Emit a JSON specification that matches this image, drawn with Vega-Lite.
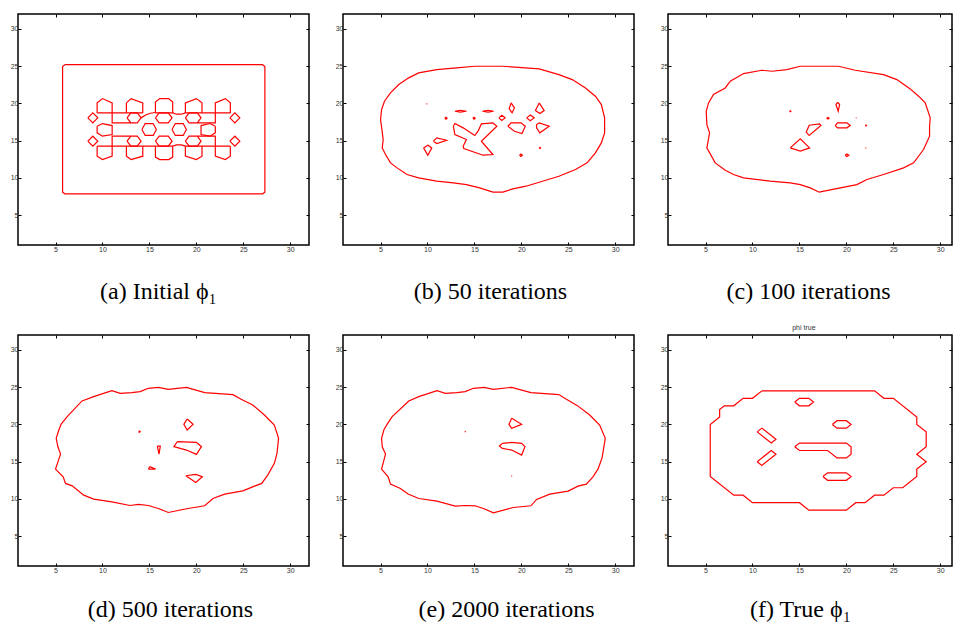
{
  "$schema": "https://vega.github.io/schema/vega-lite/v6.json",
  "padding": {"left": 9, "top": 12, "right": 0, "bottom": 0},
  "background": "white",
  "config": {
    "view": {"stroke": "black", "strokeWidth": 1.5},
    "axis": {"grid": false, "domain": false, "tickColor": "black", "tickSize": -3, "tickWidth": 1, "labelFont": "Liberation Sans", "labelFontSize": 7, "labelColor": "#333", "labelPadding": 3, "titleFont": "Liberation Serif", "titleFontSize": 24, "titleFontWeight": "normal", "titleColor": "black"},
    "line": {"color": "red", "strokeWidth": 1.2},
    "title": {"font": "Liberation Sans", "fontSize": 7, "fontWeight": "normal", "color": "#333", "offset": 4}
  },
  "datasets": {
    "a": [
      {"s":1,"x":6,"y":25.2},{"s":1,"x":27.05,"y":25.2},{"s":1,"x":27.3,"y":24.95},{"s":1,"x":27.3,"y":8.1},{"s":1,"x":27.05,"y":7.85},{"s":1,"x":6,"y":7.85},{"s":1,"x":5.75,"y":8.1},{"s":1,"x":5.75,"y":24.95},{"s":1,"x":6,"y":25.2},
      {"s":2,"x":9.43,"y":18.73},{"s":2,"x":9.43,"y":20.07},{"s":2,"x":10,"y":20.65},{"s":2,"x":11.03,"y":20.07},{"s":2,"x":11.03,"y":18.73},
      {"s":3,"x":12.55,"y":18.73},{"s":3,"x":12.55,"y":20.07},{"s":3,"x":13.05,"y":20.65},{"s":3,"x":14.29,"y":20.07},{"s":3,"x":14.29,"y":18.73},
      {"s":4,"x":15.64,"y":18.73},{"s":4,"x":15.64,"y":20.2},{"s":4,"x":16.1,"y":20.65},{"s":4,"x":17.05,"y":20.65},{"s":4,"x":17.48,"y":20.2},{"s":4,"x":17.48,"y":18.73},
      {"s":5,"x":18.83,"y":18.73},{"s":5,"x":18.83,"y":20.07},{"s":5,"x":20,"y":20.65},{"s":5,"x":20.6,"y":20.07},{"s":5,"x":20.6,"y":18.73},
      {"s":6,"x":22.02,"y":18.73},{"s":6,"x":22.02,"y":20.07},{"s":6,"x":23.09,"y":20.65},{"s":6,"x":23.62,"y":20.07},{"s":6,"x":23.62,"y":18.73},
      {"s":7,"x":9.43,"y":14.26},{"s":7,"x":9.43,"y":12.92},{"s":7,"x":10,"y":12.47},{"s":7,"x":11.03,"y":12.92},{"s":7,"x":11.03,"y":14.26},
      {"s":8,"x":12.55,"y":14.26},{"s":8,"x":12.55,"y":12.92},{"s":8,"x":13.05,"y":12.47},{"s":8,"x":14.29,"y":12.92},{"s":8,"x":14.29,"y":14.26},
      {"s":9,"x":15.64,"y":14.26},{"s":9,"x":15.64,"y":12.8},{"s":9,"x":16.1,"y":12.47},{"s":9,"x":17.05,"y":12.47},{"s":9,"x":17.48,"y":12.8},{"s":9,"x":17.48,"y":14.26},
      {"s":10,"x":18.83,"y":14.26},{"s":10,"x":18.83,"y":12.92},{"s":10,"x":20,"y":12.47},{"s":10,"x":20.6,"y":12.92},{"s":10,"x":20.6,"y":14.26},
      {"s":11,"x":22.02,"y":14.26},{"s":11,"x":22.02,"y":12.92},{"s":11,"x":23.09,"y":12.47},{"s":11,"x":23.62,"y":12.92},{"s":11,"x":23.62,"y":14.26},
      {"s":12,"x":9.43,"y":18.73},{"s":12,"x":14.29,"y":18.73},
      {"s":13,"x":14.11,"y":18.06},{"s":13,"x":14.6,"y":18.45},{"s":13,"x":15.1,"y":18.68},{"s":13,"x":15.64,"y":18.78},
      {"s":14,"x":15.64,"y":18.73},{"s":14,"x":17.48,"y":18.73},{"s":14,"x":17.9,"y":18.55},{"s":14,"x":18.4,"y":18.55},{"s":14,"x":18.83,"y":18.73},{"s":14,"x":23.62,"y":18.73},
      {"s":15,"x":9.43,"y":14.26},{"s":15,"x":17.48,"y":14.26},{"s":15,"x":17.9,"y":14.44},{"s":15,"x":18.4,"y":14.44},{"s":15,"x":18.83,"y":14.26},{"s":15,"x":23.62,"y":14.26},
      {"s":16,"x":11.03,"y":18.73},{"s":16,"x":11.03,"y":17.39},{"s":16,"x":13.02,"y":17.39},
      {"s":17,"x":11.03,"y":14.26},{"s":17,"x":11.03,"y":15.6},{"s":17,"x":13.02,"y":15.6},
      {"s":18,"x":22.02,"y":18.73},{"s":18,"x":22.02,"y":17.39},{"s":18,"x":20.1,"y":17.39},
      {"s":19,"x":22.02,"y":14.26},{"s":19,"x":22.02,"y":15.6},{"s":19,"x":20.1,"y":15.6},
      {"s":20,"x":12.62,"y":18.06},{"s":20,"x":13.02,"y":18.73},{"s":20,"x":13.71,"y":18.73},{"s":20,"x":14.11,"y":18.06},{"s":20,"x":13.71,"y":17.39},{"s":20,"x":13.02,"y":17.39},{"s":20,"x":12.62,"y":18.06},
      {"s":21,"x":15.64,"y":18.06},{"s":21,"x":16.04,"y":18.73},{"s":21,"x":17.01,"y":18.73},{"s":21,"x":17.41,"y":18.06},{"s":21,"x":17.01,"y":17.39},{"s":21,"x":16.04,"y":17.39},{"s":21,"x":15.64,"y":18.06},
      {"s":22,"x":18.83,"y":18.06},{"s":22,"x":19.23,"y":18.73},{"s":22,"x":20.1,"y":18.73},{"s":22,"x":20.5,"y":18.06},{"s":22,"x":20.1,"y":17.39},{"s":22,"x":19.23,"y":17.39},{"s":22,"x":18.83,"y":18.06},
      {"s":23,"x":12.62,"y":14.93},{"s":23,"x":13.02,"y":15.6},{"s":23,"x":13.71,"y":15.6},{"s":23,"x":14.11,"y":14.93},{"s":23,"x":13.71,"y":14.26},{"s":23,"x":13.02,"y":14.26},{"s":23,"x":12.62,"y":14.93},
      {"s":24,"x":15.64,"y":14.93},{"s":24,"x":16.04,"y":15.6},{"s":24,"x":17.01,"y":15.6},{"s":24,"x":17.41,"y":14.93},{"s":24,"x":17.01,"y":14.26},{"s":24,"x":16.04,"y":14.26},{"s":24,"x":15.64,"y":14.93},
      {"s":25,"x":18.83,"y":14.93},{"s":25,"x":19.23,"y":15.6},{"s":25,"x":20.1,"y":15.6},{"s":25,"x":20.5,"y":14.93},{"s":25,"x":20.1,"y":14.26},{"s":25,"x":19.23,"y":14.26},{"s":25,"x":18.83,"y":14.93},
      {"s":26,"x":9.43,"y":16.94},{"s":26,"x":10,"y":17.3},{"s":26,"x":11.03,"y":17.03},{"s":26,"x":11.03,"y":15.82},{"s":26,"x":10,"y":15.6},{"s":26,"x":9.43,"y":16.05},{"s":26,"x":9.43,"y":16.94},
      {"s":27,"x":14.2,"y":16.5},{"s":27,"x":14.55,"y":17.3},{"s":27,"x":15.4,"y":17.3},{"s":27,"x":15.74,"y":16.5},{"s":27,"x":15.4,"y":15.7},{"s":27,"x":14.55,"y":15.7},{"s":27,"x":14.2,"y":16.5},
      {"s":28,"x":17.41,"y":16.5},{"s":28,"x":17.76,"y":17.3},{"s":28,"x":18.6,"y":17.3},{"s":28,"x":18.94,"y":16.5},{"s":28,"x":18.6,"y":15.7},{"s":28,"x":17.76,"y":15.7},{"s":28,"x":17.41,"y":16.5},
      {"s":29,"x":22.02,"y":16.94},{"s":29,"x":21.45,"y":17.3},{"s":29,"x":20.5,"y":17.03},{"s":29,"x":20.5,"y":15.82},{"s":29,"x":21.45,"y":15.6},{"s":29,"x":22.02,"y":16.05},{"s":29,"x":22.02,"y":16.94},
      {"s":30,"x":8.44,"y":18.06},{"s":30,"x":8.97,"y":18.73},{"s":30,"x":9.5,"y":18.06},{"s":30,"x":8.97,"y":17.39},{"s":30,"x":8.44,"y":18.06},
      {"s":31,"x":8.44,"y":14.93},{"s":31,"x":8.97,"y":15.6},{"s":31,"x":9.5,"y":14.93},{"s":31,"x":8.97,"y":14.26},{"s":31,"x":8.44,"y":14.93},
      {"s":32,"x":23.57,"y":18.06},{"s":32,"x":24.1,"y":18.73},{"s":32,"x":24.63,"y":18.06},{"s":32,"x":24.1,"y":17.39},{"s":32,"x":23.57,"y":18.06},
      {"s":33,"x":23.57,"y":14.93},{"s":33,"x":24.1,"y":15.6},{"s":33,"x":24.63,"y":14.93},{"s":33,"x":24.1,"y":14.26},{"s":33,"x":23.57,"y":14.93}
    ],
    "b": [
      {"s":1,"x":15.04,"y":24.99},{"s":1,"x":18.03,"y":24.99},{"s":1,"x":21.9,"y":24.63},{"s":1,"x":24.0,"y":23.87},{"s":1,"x":25.42,"y":23.2},{"s":1,"x":26.83,"y":22.08},{"s":1,"x":27.89,"y":20.97},{"s":1,"x":28.52,"y":19.85},{"s":1,"x":28.87,"y":18.06},{"s":1,"x":28.87,"y":16.05},{"s":1,"x":28.52,"y":14.7},{"s":1,"x":27.89,"y":13.36},{"s":1,"x":27.0,"y":12.02},{"s":1,"x":25.77,"y":11.13},{"s":1,"x":24.0,"y":10.23},{"s":1,"x":22.25,"y":9.56},{"s":1,"x":20.49,"y":8.89},{"s":1,"x":19.08,"y":8.53},{"s":1,"x":18.03,"y":8.09},{"s":1,"x":16.97,"y":8.09},{"s":1,"x":15.56,"y":8.67},{"s":1,"x":14.15,"y":9.11},{"s":1,"x":12.75,"y":9.34},{"s":1,"x":10.99,"y":9.56},{"s":1,"x":9.05,"y":10.01},{"s":1,"x":7.82,"y":10.46},{"s":1,"x":6.76,"y":11.35},{"s":1,"x":6.06,"y":12.02},{"s":1,"x":5.53,"y":13.14},{"s":1,"x":5.18,"y":14.03},{"s":1,"x":5.28,"y":15.15},{"s":1,"x":5.18,"y":16.14},{"s":1,"x":5.0,"y":17.84},{"s":1,"x":5.11,"y":19.18},{"s":1,"x":5.42,"y":20.3},{"s":1,"x":6.06,"y":21.41},{"s":1,"x":6.94,"y":22.53},{"s":1,"x":8.0,"y":23.43},{"s":1,"x":9.05,"y":24.1},{"s":1,"x":10.99,"y":24.54},{"s":1,"x":13.1,"y":24.77},{"s":1,"x":15.04,"y":24.99},
      {"s":2,"x":9.88,"y":19.94},{"s":2,"x":9.98,"y":19.94},
      {"s":3,"x":12.92,"y":18.95},{"s":3,"x":13.5,"y":19.08},{"s":3,"x":14.15,"y":18.95},{"s":3,"x":13.5,"y":18.82},{"s":3,"x":12.92,"y":18.95},
      {"s":4,"x":15.85,"y":18.95},{"s":4,"x":16.45,"y":19.08},{"s":4,"x":17.04,"y":18.95},{"s":4,"x":16.45,"y":18.82},{"s":4,"x":15.85,"y":18.95},
      {"s":5,"x":18.91,"y":20.07},{"s":5,"x":19.26,"y":19.4},{"s":5,"x":19.01,"y":18.73},{"s":5,"x":18.7,"y":19.3},{"s":5,"x":18.91,"y":20.07},
      {"s":6,"x":21.9,"y":20.07},{"s":6,"x":22.43,"y":19.04},{"s":6,"x":21.97,"y":18.65},{"s":6,"x":21.5,"y":19.04},{"s":6,"x":21.9,"y":20.07},
      {"s":7,"x":11.85,"y":18.01},{"s":7,"x":11.97,"y":18.15},{"s":7,"x":12.09,"y":18.01},{"s":7,"x":11.97,"y":17.87},{"s":7,"x":11.85,"y":18.01},
      {"s":8,"x":14.84,"y":18.01},{"s":8,"x":14.96,"y":18.15},{"s":8,"x":15.08,"y":18.01},{"s":8,"x":14.96,"y":17.87},{"s":8,"x":14.84,"y":18.01},
      {"s":9,"x":17.6,"y":18.06},{"s":9,"x":17.92,"y":18.4},{"s":9,"x":18.27,"y":18.06},{"s":9,"x":17.92,"y":17.72},{"s":9,"x":17.6,"y":18.06},
      {"s":10,"x":20.56,"y":18.06},{"s":10,"x":20.95,"y":18.45},{"s":10,"x":21.37,"y":18.06},{"s":10,"x":20.95,"y":17.67},{"s":10,"x":20.56,"y":18.06},
      {"s":11,"x":12.75,"y":16.94},{"s":11,"x":12.92,"y":17.3},{"s":11,"x":13.8,"y":16.72},{"s":11,"x":15.04,"y":15.69},{"s":11,"x":15.39,"y":16.27},{"s":11,"x":15.74,"y":17.25},{"s":11,"x":16.97,"y":17.39},{"s":11,"x":17.39,"y":16.94},{"s":11,"x":15.74,"y":14.93},{"s":11,"x":16.97,"y":13.14},{"s":11,"x":15.92,"y":13.05},{"s":11,"x":13.87,"y":13.94},{"s":11,"x":13.8,"y":14.26},{"s":11,"x":14.15,"y":15.15},{"s":11,"x":12.92,"y":15.82},{"s":11,"x":12.75,"y":16.94},
      {"s":12,"x":18.56,"y":16.94},{"s":12,"x":18.9,"y":17.39},{"s":12,"x":19.96,"y":17.39},{"s":12,"x":20.42,"y":16.94},{"s":12,"x":20.07,"y":15.96},{"s":12,"x":19.26,"y":16.27},{"s":12,"x":18.56,"y":16.94},
      {"s":13,"x":21.62,"y":17.16},{"s":13,"x":21.9,"y":17.39},{"s":13,"x":22.96,"y":16.94},{"s":13,"x":21.97,"y":16.05},{"s":13,"x":21.62,"y":16.72},{"s":13,"x":21.62,"y":17.16},
      {"s":14,"x":10.63,"y":14.93},{"s":14,"x":10.99,"y":15.38},{"s":14,"x":12.04,"y":15.06},{"s":14,"x":10.99,"y":14.61},{"s":14,"x":10.63,"y":14.93},
      {"s":15,"x":9.58,"y":14.03},{"s":15,"x":10.04,"y":14.39},{"s":15,"x":10.46,"y":14.03},{"s":15,"x":10.04,"y":13.05},{"s":15,"x":9.58,"y":14.03},
      {"s":16,"x":19.81,"y":13.05},{"s":16,"x":19.96,"y":13.22},{"s":16,"x":20.11,"y":13.05},{"s":16,"x":19.96,"y":12.88},{"s":16,"x":19.81,"y":13.05},
      {"s":17,"x":21.9,"y":14.03},{"s":17,"x":21.97,"y":14.1},{"s":17,"x":22.04,"y":14.03},{"s":17,"x":21.97,"y":13.96},{"s":17,"x":21.9,"y":14.03}
    ],
    "c": [
      {"s":1,"x":15.09,"y":24.99},{"s":1,"x":17.22,"y":24.99},{"s":1,"x":19.17,"y":24.99},{"s":1,"x":20.94,"y":24.45},{"s":1,"x":23.96,"y":23.87},{"s":1,"x":25.38,"y":23.2},{"s":1,"x":26.8,"y":21.95},{"s":1,"x":27.69,"y":20.97},{"s":1,"x":28.4,"y":20.07},{"s":1,"x":28.93,"y":18.06},{"s":1,"x":28.86,"y":16.94},{"s":1,"x":28.86,"y":15.6},{"s":1,"x":28.22,"y":13.81},{"s":1,"x":27.16,"y":12.02},{"s":1,"x":26.09,"y":11.35},{"s":1,"x":23.96,"y":10.46},{"s":1,"x":22.19,"y":9.79},{"s":1,"x":21.12,"y":9.11},{"s":1,"x":19.35,"y":8.67},{"s":1,"x":17.11,"y":8.09},{"s":1,"x":16.15,"y":8.67},{"s":1,"x":15.09,"y":9.11},{"s":1,"x":14.02,"y":9.34},{"s":1,"x":11.89,"y":9.56},{"s":1,"x":9.05,"y":10.01},{"s":1,"x":7.98,"y":10.46},{"s":1,"x":7.1,"y":11.04},{"s":1,"x":6.03,"y":12.02},{"s":1,"x":5.14,"y":14.03},{"s":1,"x":5.43,"y":16.05},{"s":1,"x":5.14,"y":17.16},{"s":1,"x":5.07,"y":18.95},{"s":1,"x":5.32,"y":20.07},{"s":1,"x":5.85,"y":21.19},{"s":1,"x":7.1,"y":22.08},{"s":1,"x":7.63,"y":22.98},{"s":1,"x":9.05,"y":24.01},{"s":1,"x":11.0,"y":24.45},{"s":1,"x":12.07,"y":24.32},{"s":1,"x":13.66,"y":24.54},{"s":1,"x":15.09,"y":24.99},
      {"s":2,"x":13.95,"y":18.95},{"s":2,"x":14.02,"y":19.02},{"s":2,"x":14.09,"y":18.95},{"s":2,"x":14.02,"y":18.88},{"s":2,"x":13.95,"y":18.95},
      {"s":3,"x":19.06,"y":20.16},{"s":3,"x":19.28,"y":19.85},{"s":3,"x":19.13,"y":18.95},{"s":3,"x":18.89,"y":19.85},{"s":3,"x":19.06,"y":20.16},
      {"s":4,"x":17.9,"y":18.01},{"s":4,"x":18.03,"y":18.12},{"s":4,"x":18.16,"y":18.01},{"s":4,"x":18.03,"y":17.9},{"s":4,"x":17.9,"y":18.01},
      {"s":5,"x":21.0,"y":18.06},{"s":5,"x":21.08,"y":18.06},
      {"s":6,"x":22.02,"y":17.03},{"s":6,"x":22.08,"y":17.09},{"s":6,"x":22.14,"y":17.03},{"s":6,"x":22.08,"y":16.97},{"s":6,"x":22.02,"y":17.03},
      {"s":7,"x":22.03,"y":14.03},{"s":7,"x":22.12,"y":14.03},
      {"s":8,"x":18.81,"y":17.03},{"s":8,"x":19.06,"y":17.39},{"s":8,"x":20.06,"y":17.39},{"s":8,"x":20.41,"y":17.03},{"s":8,"x":20.06,"y":16.72},{"s":8,"x":19.06,"y":16.72},{"s":8,"x":18.81,"y":17.03},
      {"s":9,"x":16.04,"y":17.07},{"s":9,"x":17.14,"y":17.25},{"s":9,"x":17.29,"y":17.03},{"s":9,"x":16.04,"y":15.69},{"s":9,"x":15.72,"y":16.14},{"s":9,"x":16.04,"y":17.07},
      {"s":10,"x":14.02,"y":14.03},{"s":10,"x":15.09,"y":15.24},{"s":10,"x":16.08,"y":14.03},{"s":10,"x":15.09,"y":13.59},{"s":10,"x":14.02,"y":14.03},
      {"s":11,"x":19.86,"y":13.05},{"s":11,"x":20.06,"y":13.22},{"s":11,"x":20.26,"y":13.05},{"s":11,"x":20.06,"y":12.88},{"s":11,"x":19.86,"y":13.05}
    ],
    "d": [
      {"s":1,"x":14.89,"y":24.85},{"s":1,"x":15.95,"y":24.98},{"s":1,"x":17.01,"y":24.71},{"s":1,"x":18.95,"y":24.98},{"s":1,"x":20.89,"y":24.27},{"s":1,"x":23.89,"y":24.0},{"s":1,"x":24.77,"y":23.37},{"s":1,"x":26.01,"y":22.61},{"s":1,"x":27.25,"y":21.26},{"s":1,"x":28.31,"y":19.92},{"s":1,"x":28.76,"y":18.13},{"s":1,"x":28.59,"y":16.11},{"s":1,"x":28.31,"y":14.77},{"s":1,"x":27.6,"y":13.2},{"s":1,"x":26.96,"y":12.08},{"s":1,"x":26.19,"y":11.72},{"s":1,"x":24.95,"y":11.09},{"s":1,"x":23.01,"y":10.65},{"s":1,"x":21.77,"y":10.06},{"s":1,"x":20.89,"y":9.08},{"s":1,"x":19.12,"y":8.72},{"s":1,"x":17.01,"y":8.18},{"s":1,"x":15.95,"y":8.72},{"s":1,"x":14.89,"y":9.12},{"s":1,"x":13.83,"y":9.26},{"s":1,"x":12.94,"y":9.12},{"s":1,"x":11.0,"y":9.61},{"s":1,"x":9.06,"y":9.97},{"s":1,"x":8.0,"y":10.51},{"s":1,"x":6.77,"y":11.76},{"s":1,"x":6.06,"y":12.08},{"s":1,"x":5.81,"y":12.97},{"s":1,"x":5.0,"y":14.0},{"s":1,"x":5.53,"y":16.02},{"s":1,"x":5.25,"y":17.0},{"s":1,"x":5.07,"y":18.13},{"s":1,"x":5.35,"y":19.25},{"s":1,"x":5.6,"y":20.05},{"s":1,"x":6.24,"y":21.04},{"s":1,"x":7.82,"y":23.15},{"s":1,"x":9.06,"y":23.73},{"s":1,"x":11.0,"y":24.53},{"s":1,"x":11.89,"y":24.18},{"s":1,"x":13.12,"y":24.27},{"s":1,"x":14.0,"y":24.4},{"s":1,"x":14.89,"y":24.85},
      {"s":2,"x":13.85,"y":19.02},{"s":2,"x":13.93,"y":19.1},{"s":2,"x":14.01,"y":19.02},{"s":2,"x":13.93,"y":18.94},{"s":2,"x":13.85,"y":19.02},
      {"s":3,"x":19.02,"y":20.73},{"s":3,"x":19.65,"y":20.01},{"s":3,"x":19.02,"y":19.25},{"s":3,"x":18.67,"y":20.01},{"s":3,"x":19.02,"y":20.73},
      {"s":4,"x":15.84,"y":17.1},{"s":4,"x":16.16,"y":17.1},{"s":4,"x":16.02,"y":16.02},{"s":4,"x":15.84,"y":17.1},
      {"s":5,"x":17.96,"y":17.68},{"s":5,"x":20.01,"y":17.59},{"s":5,"x":20.54,"y":17.01},{"s":5,"x":20.01,"y":15.98},{"s":5,"x":18.95,"y":16.56},{"s":5,"x":17.61,"y":17.01},{"s":5,"x":17.96,"y":17.68},
      {"s":6,"x":14.89,"y":14.0},{"s":6,"x":15.06,"y":14.32},{"s":6,"x":15.66,"y":14.0},{"s":6,"x":14.89,"y":14.0},
      {"s":7,"x":18.88,"y":13.11},{"s":7,"x":19.94,"y":13.29},{"s":7,"x":20.64,"y":12.98},{"s":7,"x":19.94,"y":12.21},{"s":7,"x":18.88,"y":13.11}
    ],
    "e": [
      {"s":1,"x":14.9,"y":24.85},{"s":1,"x":16.03,"y":24.98},{"s":1,"x":17.02,"y":24.71},{"s":1,"x":18.97,"y":24.98},{"s":1,"x":21.02,"y":24.27},{"s":1,"x":23.99,"y":24.0},{"s":1,"x":24.8,"y":23.37},{"s":1,"x":25.97,"y":22.52},{"s":1,"x":27.28,"y":21.26},{"s":1,"x":28.34,"y":19.92},{"s":1,"x":28.94,"y":18.13},{"s":1,"x":28.6,"y":15.5},{"s":1,"x":28.16,"y":14.0},{"s":1,"x":27.63,"y":12.97},{"s":1,"x":26.92,"y":11.99},{"s":1,"x":26.04,"y":11.72},{"s":1,"x":24.98,"y":11.05},{"s":1,"x":23.03,"y":10.65},{"s":1,"x":21.62,"y":9.93},{"s":1,"x":21.02,"y":9.08},{"s":1,"x":19.14,"y":8.85},{"s":1,"x":17.02,"y":8.14},{"s":1,"x":15.96,"y":8.72},{"s":1,"x":15.08,"y":9.08},{"s":1,"x":14.02,"y":9.12},{"s":1,"x":12.96,"y":9.03},{"s":1,"x":11.01,"y":9.7},{"s":1,"x":9.07,"y":10.06},{"s":1,"x":7.93,"y":10.65},{"s":1,"x":7.12,"y":11.41},{"s":1,"x":6.06,"y":11.99},{"s":1,"x":5.81,"y":12.97},{"s":1,"x":5.11,"y":14.0},{"s":1,"x":5.53,"y":16.02},{"s":1,"x":5.18,"y":17.0},{"s":1,"x":5.11,"y":18.13},{"s":1,"x":5.35,"y":19.25},{"s":1,"x":5.71,"y":20.05},{"s":1,"x":6.24,"y":21.04},{"s":1,"x":8.01,"y":23.15},{"s":1,"x":9.07,"y":23.73},{"s":1,"x":11.01,"y":24.53},{"s":1,"x":11.9,"y":24.18},{"s":1,"x":13.13,"y":24.27},{"s":1,"x":14.02,"y":24.4},{"s":1,"x":14.9,"y":24.85},
      {"s":2,"x":13.96,"y":19.02},{"s":2,"x":14.08,"y":19.02},
      {"s":3,"x":18.97,"y":20.82},{"s":3,"x":20.03,"y":20.01},{"s":3,"x":18.97,"y":19.47},{"s":3,"x":18.68,"y":20.01},{"s":3,"x":18.97,"y":20.82},
      {"s":4,"x":17.98,"y":17.46},{"s":4,"x":18.97,"y":17.59},{"s":4,"x":20.03,"y":17.46},{"s":4,"x":20.38,"y":17.01},{"s":4,"x":20.03,"y":15.89},{"s":4,"x":18.97,"y":16.56},{"s":4,"x":17.98,"y":16.78},{"s":4,"x":17.66,"y":17.1},{"s":4,"x":17.98,"y":17.46},
      {"s":5,"x":18.93,"y":13.07},{"s":5,"x":19.02,"y":13.07}
    ],
    "f": [
      {"s":1,"x":11,"y":24.5},{"s":1,"x":23,"y":24.5},{"s":1,"x":24,"y":23.5},{"s":1,"x":25,"y":23.5},{"s":1,"x":27.5,"y":21},{"s":1,"x":27.5,"y":20},{"s":1,"x":28.5,"y":19},{"s":1,"x":28.5,"y":17},{"s":1,"x":27.5,"y":16},{"s":1,"x":28.5,"y":15},{"s":1,"x":27.5,"y":14},{"s":1,"x":27.5,"y":13},{"s":1,"x":26,"y":11.5},{"s":1,"x":25,"y":11.5},{"s":1,"x":24,"y":10.5},{"s":1,"x":23,"y":10.5},{"s":1,"x":22,"y":9.5},{"s":1,"x":21,"y":9.5},{"s":1,"x":20,"y":8.5},{"s":1,"x":16,"y":8.5},{"s":1,"x":15,"y":9.5},{"s":1,"x":10,"y":9.5},{"s":1,"x":9,"y":10.5},{"s":1,"x":8,"y":10.5},{"s":1,"x":5.5,"y":13},{"s":1,"x":5.5,"y":20},{"s":1,"x":6.5,"y":21},{"s":1,"x":6.5,"y":22},{"s":1,"x":7,"y":22.5},{"s":1,"x":8,"y":22.5},{"s":1,"x":9,"y":23.5},{"s":1,"x":10,"y":23.5},{"s":1,"x":11,"y":24.5},
      {"s":2,"x":14.5,"y":23},{"s":2,"x":15,"y":23.5},{"s":2,"x":16,"y":23.5},{"s":2,"x":16.5,"y":23},{"s":2,"x":16,"y":22.5},{"s":2,"x":15,"y":22.5},{"s":2,"x":14.5,"y":23},
      {"s":3,"x":18.5,"y":20},{"s":3,"x":19,"y":20.5},{"s":3,"x":20,"y":20.5},{"s":3,"x":20.5,"y":20},{"s":3,"x":20,"y":19.5},{"s":3,"x":19,"y":19.5},{"s":3,"x":18.5,"y":20},
      {"s":4,"x":10.5,"y":19},{"s":4,"x":11,"y":19.5},{"s":4,"x":12.5,"y":18},{"s":4,"x":12,"y":17.5},{"s":4,"x":10.5,"y":19},
      {"s":5,"x":10.5,"y":15},{"s":5,"x":12,"y":16.5},{"s":5,"x":12.5,"y":16},{"s":5,"x":11,"y":14.5},{"s":5,"x":10.5,"y":15},
      {"s":6,"x":14.5,"y":17},{"s":6,"x":15,"y":17.5},{"s":6,"x":20,"y":17.5},{"s":6,"x":20.5,"y":17},{"s":6,"x":20.5,"y":16},{"s":6,"x":20,"y":15.5},{"s":6,"x":19,"y":15.5},{"s":6,"x":18,"y":16.5},{"s":6,"x":15,"y":16.5},{"s":6,"x":14.5,"y":17},
      {"s":7,"x":17.5,"y":13},{"s":7,"x":18,"y":13.5},{"s":7,"x":20,"y":13.5},{"s":7,"x":20.5,"y":13},{"s":7,"x":20,"y":12.5},{"s":7,"x":18,"y":12.5},{"s":7,"x":17.5,"y":13}
    ]
  },
  "columns": 3,
  "spacing": {"row": 90, "column": 34},
  "bounds": "flush",
  "concat": [
    {
      "width": 291, "height": 231, "data": {"name": "a"},
      "layer": [
        {"mark": {"type": "line", "clip": true},
         "encoding": {
           "x": {"field": "x", "type": "quantitative", "scale": {"domain": [1, 32], "nice": false, "zero": false}, "axis": {"values": [5,10,15,20,25,30], "title": "(a) Initial ϕ₁", "titleY": 46, "titleX": 140, "titleBaseline": "middle"}},
           "y": {"field": "y", "type": "quantitative", "scale": {"domain": [1, 32], "nice": false, "zero": false}, "axis": {"values": [5,10,15,20,25,30], "title": null}},
           "detail": {"field": "s", "type": "nominal"},
           "order": {"value": null}}},
        {"mark": {"type": "point", "opacity": 0},
         "encoding": {
           "x": {"field": "x", "type": "quantitative", "scale": {"domain": [1, 32], "nice": false, "zero": false}, "axis": {"orient": "top", "values": [5,10,15,20,25,30], "labels": false, "title": null}},
           "y": {"field": "y", "type": "quantitative", "scale": {"domain": [1, 32], "nice": false, "zero": false}, "axis": {"orient": "right", "values": [5,10,15,20,25,30], "labels": false, "title": null}}}}
      ],
      "resolve": {"axis": {"x": "independent", "y": "independent"}}
    },
    {
      "width": 291, "height": 231, "data": {"name": "b"},
      "layer": [
        {"mark": {"type": "line", "clip": true},
         "encoding": {
           "x": {"field": "x", "type": "quantitative", "scale": {"domain": [1, 32], "nice": false, "zero": false}, "axis": {"values": [5,10,15,20,25,30], "title": "(b) 50 iterations", "titleY": 46, "titleX": 147, "titleBaseline": "middle"}},
           "y": {"field": "y", "type": "quantitative", "scale": {"domain": [1, 32], "nice": false, "zero": false}, "axis": {"values": [5,10,15,20,25,30], "title": null}},
           "detail": {"field": "s", "type": "nominal"},
           "order": {"value": null}}},
        {"mark": {"type": "point", "opacity": 0},
         "encoding": {
           "x": {"field": "x", "type": "quantitative", "scale": {"domain": [1, 32], "nice": false, "zero": false}, "axis": {"orient": "top", "values": [5,10,15,20,25,30], "labels": false, "title": null}},
           "y": {"field": "y", "type": "quantitative", "scale": {"domain": [1, 32], "nice": false, "zero": false}, "axis": {"orient": "right", "values": [5,10,15,20,25,30], "labels": false, "title": null}}}}
      ],
      "resolve": {"axis": {"x": "independent", "y": "independent"}}
    },
    {
      "width": 284, "height": 231, "data": {"name": "c"},
      "layer": [
        {"mark": {"type": "line", "clip": true},
         "encoding": {
           "x": {"field": "x", "type": "quantitative", "scale": {"domain": [1, 31.25], "nice": false, "zero": false}, "axis": {"values": [5,10,15,20,25,30], "title": "(c) 100 iterations", "titleY": 46, "titleX": 140, "titleBaseline": "middle"}},
           "y": {"field": "y", "type": "quantitative", "scale": {"domain": [1, 32], "nice": false, "zero": false}, "axis": {"values": [5,10,15,20,25,30], "title": null}},
           "detail": {"field": "s", "type": "nominal"},
           "order": {"value": null}}},
        {"mark": {"type": "point", "opacity": 0},
         "encoding": {
           "x": {"field": "x", "type": "quantitative", "scale": {"domain": [1, 31.25], "nice": false, "zero": false}, "axis": {"orient": "top", "values": [5,10,15,20,25,30], "labels": false, "title": null}},
           "y": {"field": "y", "type": "quantitative", "scale": {"domain": [1, 32], "nice": false, "zero": false}, "axis": {"orient": "right", "values": [5,10,15,20,25,30], "labels": false, "title": null}}}}
      ],
      "resolve": {"axis": {"x": "independent", "y": "independent"}}
    },
    {
      "width": 291, "height": 231, "data": {"name": "d"},
      "layer": [
        {"mark": {"type": "line", "clip": true},
         "encoding": {
           "x": {"field": "x", "type": "quantitative", "scale": {"domain": [1, 32], "nice": false, "zero": false}, "axis": {"values": [5,10,15,20,25,30], "title": "(d) 500 iterations", "titleY": 43, "titleX": 152, "titleBaseline": "middle"}},
           "y": {"field": "y", "type": "quantitative", "scale": {"domain": [1, 32], "nice": false, "zero": false}, "axis": {"values": [5,10,15,20,25,30], "title": null}},
           "detail": {"field": "s", "type": "nominal"},
           "order": {"value": null}}},
        {"mark": {"type": "point", "opacity": 0},
         "encoding": {
           "x": {"field": "x", "type": "quantitative", "scale": {"domain": [1, 32], "nice": false, "zero": false}, "axis": {"orient": "top", "values": [5,10,15,20,25,30], "labels": false, "title": null}},
           "y": {"field": "y", "type": "quantitative", "scale": {"domain": [1, 32], "nice": false, "zero": false}, "axis": {"orient": "right", "values": [5,10,15,20,25,30], "labels": false, "title": null}}}}
      ],
      "resolve": {"axis": {"x": "independent", "y": "independent"}}
    },
    {
      "width": 291, "height": 231, "data": {"name": "e"},
      "layer": [
        {"mark": {"type": "line", "clip": true},
         "encoding": {
           "x": {"field": "x", "type": "quantitative", "scale": {"domain": [1, 32], "nice": false, "zero": false}, "axis": {"values": [5,10,15,20,25,30], "title": "(e) 2000 iterations", "titleY": 43, "titleX": 163, "titleBaseline": "middle"}},
           "y": {"field": "y", "type": "quantitative", "scale": {"domain": [1, 32], "nice": false, "zero": false}, "axis": {"values": [5,10,15,20,25,30], "title": null}},
           "detail": {"field": "s", "type": "nominal"},
           "order": {"value": null}}},
        {"mark": {"type": "point", "opacity": 0},
         "encoding": {
           "x": {"field": "x", "type": "quantitative", "scale": {"domain": [1, 32], "nice": false, "zero": false}, "axis": {"orient": "top", "values": [5,10,15,20,25,30], "labels": false, "title": null}},
           "y": {"field": "y", "type": "quantitative", "scale": {"domain": [1, 32], "nice": false, "zero": false}, "axis": {"orient": "right", "values": [5,10,15,20,25,30], "labels": false, "title": null}}}}
      ],
      "resolve": {"axis": {"x": "independent", "y": "independent"}}
    },
    {
      "width": 284, "height": 231, "data": {"name": "f"},
      "title": {"text": "phi true", "anchor": "start", "dx": 132},
      "layer": [
        {"mark": {"type": "line", "clip": true},
         "encoding": {
           "x": {"field": "x", "type": "quantitative", "scale": {"domain": [1, 31.25], "nice": false, "zero": false}, "axis": {"values": [5,10,15,20,25,30], "title": "(f) True ϕ₁", "titleY": 43, "titleX": 132, "titleBaseline": "middle"}},
           "y": {"field": "y", "type": "quantitative", "scale": {"domain": [1, 32], "nice": false, "zero": false}, "axis": {"values": [5,10,15,20,25,30], "title": null}},
           "detail": {"field": "s", "type": "nominal"},
           "order": {"value": null}}},
        {"mark": {"type": "point", "opacity": 0},
         "encoding": {
           "x": {"field": "x", "type": "quantitative", "scale": {"domain": [1, 31.25], "nice": false, "zero": false}, "axis": {"orient": "top", "values": [5,10,15,20,25,30], "labels": false, "title": null}},
           "y": {"field": "y", "type": "quantitative", "scale": {"domain": [1, 32], "nice": false, "zero": false}, "axis": {"orient": "right", "values": [5,10,15,20,25,30], "labels": false, "title": null}}}}
      ],
      "resolve": {"axis": {"x": "independent", "y": "independent"}}
    }
  ]
}
